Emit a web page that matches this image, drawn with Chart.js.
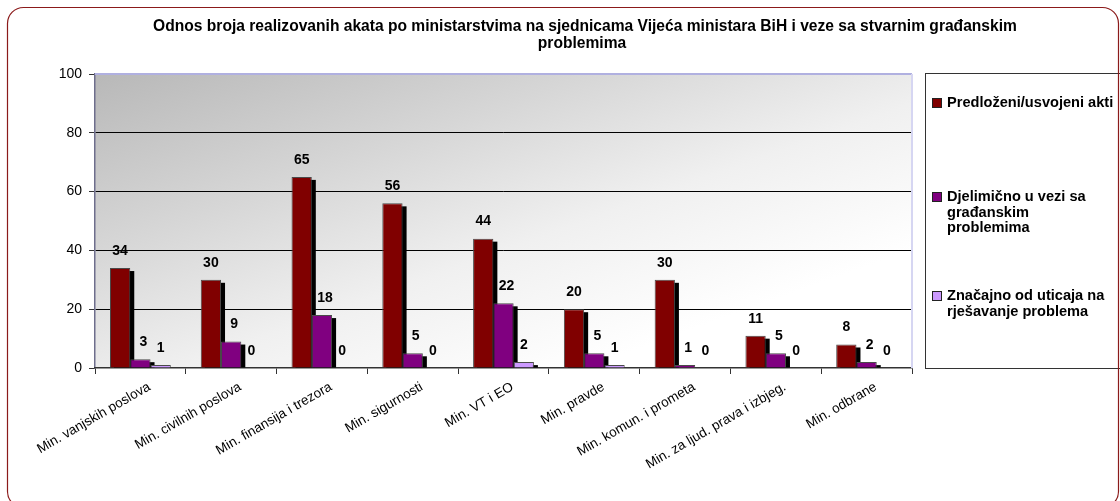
<!DOCTYPE html>
<html>
<head>
<meta charset="utf-8">
<script src="https://cdn.jsdelivr.net/npm/chart.js@4.4.1/dist/chart.umd.min.js"></script>
<style>
html,body{margin:0;padding:0;background:#fff;}
#wrap{width:1120px;height:501px;}
</style>
</head>
<body>
<div id="wrap"><canvas id="c" width="1120" height="501"></canvas></div>
<script>
const titleLines = ['Odnos broja realizovanih akata po ministarstvima na sjednicama Vijeća ministara BiH i veze sa stvarnim građanskim', 'problemima'];
const categories = ['Min. vanjskih poslova','Min. civilnih poslova','Min. finansija i trezora','Min. sigurnosti','Min. VT i EO','Min. pravde','Min. komun. i prometa','Min. za ljud. prava i izbjeg.','Min. odbrane'];
const predlozeni = [34, 30, 65, 56, 44, 20, 30, 11, 8];
const djelimicno = [3, 9, 18, 5, 22, 5, 1, 5, 2];
const znacajno   = [1, 0, 0, 0, 2, 1, 0, 0, 0];
const seriesNames = ['Predloženi/usvojeni akti', 'Djelimično u vezi sa građanskim problemima', 'Značajno od uticaja na rješavanje problema'];
const legendLines = [['Predloženi/usvojeni akti'], ['Djelimično u vezi sa', 'građanskim', 'problemima'], ['Značajno od uticaja na', 'rješavanje problema']];
const yTickValues = [0, 20, 40, 60, 80, 100];
const seriesColors = ['#800000', '#800080', '#CC99FF'];

const FONT = '"Liberation Sans", Arial, Helvetica, sans-serif';

const decor = {
  id: 'decor',
  beforeDraw(chart) {
    const {ctx, chartArea: a} = chart;
    ctx.save();
    ctx.fillStyle = '#fff';
    ctx.fillRect(0, 0, chart.width, chart.height);
    const W = a.right - a.left, H = a.bottom - a.top;
    const k = 2 / (1 / (W * W) + 1 / (H * H));
    const g = ctx.createLinearGradient(a.left, a.top, a.left + k / W, a.top + k / H);
    g.addColorStop(0, '#b8b8b8');
    g.addColorStop(0.3, '#d6d6d6');
    g.addColorStop(0.55, '#f0f0f0');
    g.addColorStop(0.8, '#ffffff');
    g.addColorStop(1, '#ffffff');
    ctx.fillStyle = g;
    ctx.fillRect(a.left, a.top, W, H);
    ctx.restore();
  },
  beforeDatasetsDraw(chart) {
    const ctx = chart.ctx;
    ctx.save();
    ctx.fillStyle = '#000';
    chart.data.datasets.forEach((ds, i) => {
      chart.getDatasetMeta(i).data.forEach(el => {
        const p = el.getProps(['x', 'y', 'base', 'width'], true);
        const h = p.base - p.y - 3;
        if (h > 0) ctx.fillRect(p.x - p.width / 2 + 4, p.y + 3, p.width, h);
      });
    });
    ctx.restore();
  },
  afterDatasetsDraw(chart) {
    const ctx = chart.ctx;
    ctx.save();
    ctx.font = 'bold 14px ' + FONT;
    ctx.fillStyle = '#000';
    ctx.textAlign = 'center';
    ctx.textBaseline = 'middle';
    chart.data.datasets.forEach((ds, i) => {
      chart.getDatasetMeta(i).data.forEach((el, j) => {
        const p = el.getProps(['x', 'y'], true);
        ctx.fillText(String(ds.data[j]), p.x + (i === 1 ? 3 : 0), p.y - 17);
      });
    });
    ctx.restore();
  },
  afterDraw(chart) {
    const {ctx, chartArea: a} = chart;
    ctx.save();
    // plot top & right borders
    ctx.strokeStyle = '#b0b0e0';
    ctx.lineWidth = 2;
    ctx.beginPath(); ctx.moveTo(a.left, a.top); ctx.lineTo(a.right, a.top); ctx.stroke();
    ctx.strokeStyle = '#d6d6f2';
    ctx.beginPath(); ctx.moveTo(a.right, a.top); ctx.lineTo(a.right, a.bottom); ctx.stroke();
    // title
    ctx.fillStyle = '#000';
    ctx.font = 'bold 15.6px ' + FONT;
    ctx.textAlign = 'center';
    ctx.textBaseline = 'middle';
    ctx.fillText(titleLines[0], 585, 27);
    ctx.fillText(titleLines[1], 582, 44);
    // legend
    const lx = 925.5, ly = 73.5;
    ctx.strokeStyle = '#333';
    ctx.lineWidth = 1;
    ctx.strokeRect(lx, ly, 210, 295);
    const itemY = [103, 197, 296];
    ctx.textAlign = 'left';
    ctx.font = 'bold 14.6px ' + FONT;
    legendLines.forEach((lines, i) => {
      ctx.fillStyle = chart.data.datasets[i].backgroundColor;
      ctx.fillRect(932.5, itemY[i] - 4.5, 9, 9);
      ctx.strokeStyle = '#222';
      ctx.strokeRect(932.5, itemY[i] - 4.5, 9, 9);
      ctx.fillStyle = '#000';
      lines.forEach((t, k) => ctx.fillText(t, 947, itemY[i] + k * 15.5));
    });
    // outer rounded border
    ctx.strokeStyle = '#8b1a1a';
    ctx.lineWidth = 1.2;
    ctx.beginPath();
    ctx.roundRect(7.5, 7.5, 1111, 500, 16);
    ctx.stroke();
    ctx.restore();
  }
};

new Chart(document.getElementById('c'), {
  type: 'bar',
  data: {
    labels: categories,
    datasets: [
      {label: seriesNames[0], data: predlozeni, backgroundColor: seriesColors[0]},
      {label: seriesNames[1], data: djelimicno, backgroundColor: seriesColors[1]},
      {label: seriesNames[2], data: znacajno, backgroundColor: seriesColors[2]}
    ].map(d => Object.assign(d, {borderColor: '#4a4a4a', borderWidth: 1, categoryPercentage: 0.67, barPercentage: 1.0}))
  },
  options: {
    responsive: false,
    animation: false,
    devicePixelRatio: 1,
    layout: {padding: {left: 0, right: 208, top: 74, bottom: 0}},
    plugins: {legend: {display: false}, title: {display: false}, tooltip: {enabled: false}},
    scales: {
      y: {
        min: 0, max: 100,
        afterBuildTicks: s => { s.ticks = yTickValues.map(v => ({value: v})); },
        afterFit: s => { s.width = 95; },
        ticks: {color: '#000', font: {family: FONT, size: 14}, padding: 7},
        grid: {
          color: c => (c.tick.value === 0 || c.tick.value === 100) ? 'rgba(0,0,0,0)' : '#000',
          tickColor: '#333', tickLength: 6, lineWidth: 1
        },
        border: {color: '#6e6e8c', width: 1.5}
      },
      x: {
        afterFit: s => { s.height = 133; },
        ticks: {color: '#000', font: {family: FONT, size: 13.5}, minRotation: 30, maxRotation: 30, padding: 5, labelOffset: 9},
        grid: {drawOnChartArea: false, offset: true, tickLength: 6, tickColor: '#333'},
        border: {color: '#333', width: 1.5}
      }
    }
  },
  plugins: [decor]
});
</script>
</body>
</html>
